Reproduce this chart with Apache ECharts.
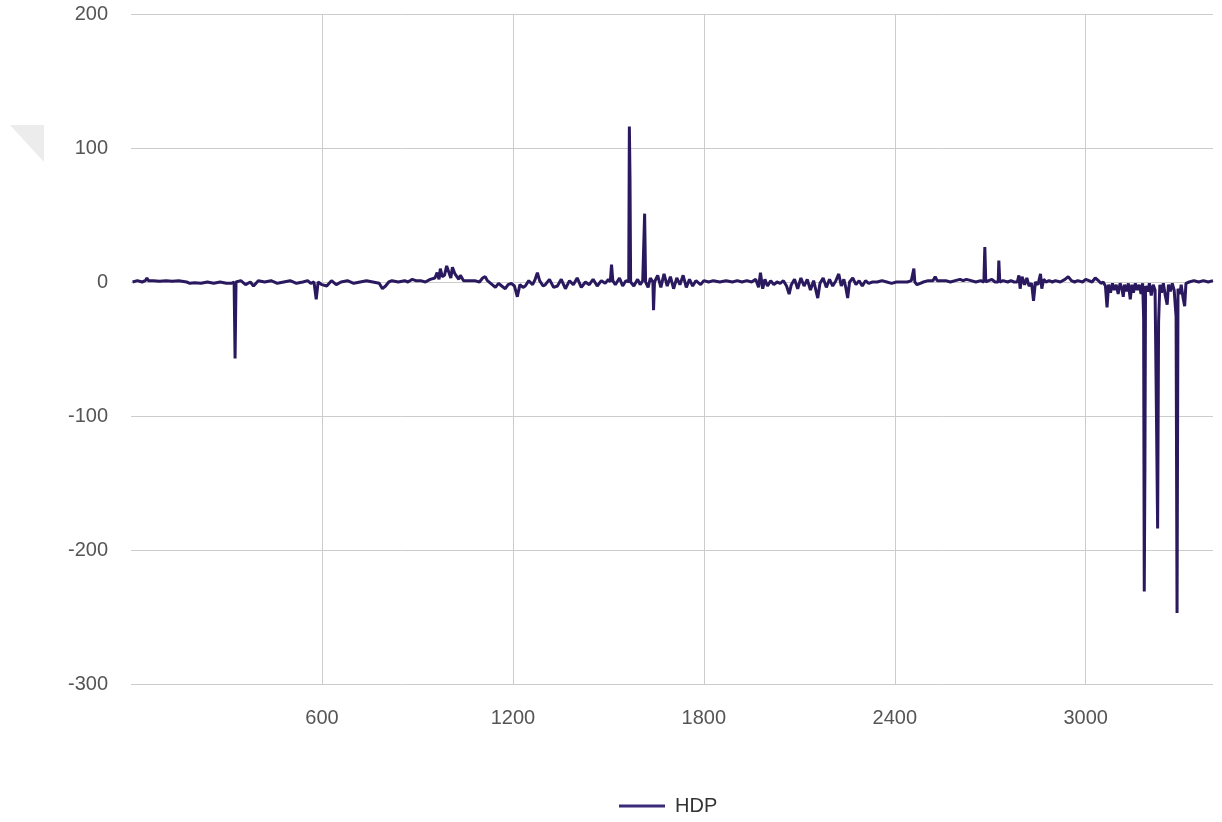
<!DOCTYPE html>
<html>
<head>
<meta charset="utf-8">
<script src="https://cdn.jsdelivr.net/npm/echarts@6/dist/echarts.min.js"></script>
<style>
  html, body { margin: 0; padding: 0; background: #fff; }
  #chart { width: 1222px; height: 822px; }
</style>
</head>
<body>
<div id="chart"></div>
<script>
// x positions (sample index) of the HDP series
const xPos = [
  5, 20, 35, 45, 50, 55, 70, 90, 110, 130, 150, 175, 180, 185, 200, 220, 240, 260, 280, 300, 315, 320, 324, 327, 330, 335,
  345, 360, 375, 385, 400, 420, 440, 460, 480, 500, 520, 540, 555, 565, 575, 582, 588, 600, 615, 630, 645, 660, 680, 700,
  720, 740, 760, 780, 790, 800, 810, 820, 840, 860,
  870, 884, 895, 910, 925, 940, 955, 962, 968, 972, 978, 985, 992, 997, 1005, 1010, 1018, 1030, 1035, 1045, 1060, 1066,
  1080, 1095, 1105, 1113, 1120, 1135, 1145, 1155, 1165, 1176, 1185, 1195, 1205, 1214, 1222, 1232, 1239, 1250, 1262, 1270,
  1277, 1284, 1295, 1302, 1315, 1328,
  1340, 1352, 1365, 1378, 1390, 1402, 1415, 1428, 1440, 1452, 1465, 1478, 1490, 1500, 1506, 1510, 1514, 1522, 1535, 1545,
  1555, 1560, 1564, 1566, 1568, 1570,
  1580, 1592, 1600, 1608, 1612, 1614, 1617, 1625, 1632, 1640, 1642, 1645, 1655, 1665, 1675, 1685, 1695, 1705, 1715, 1725,
  1735, 1745, 1755, 1765, 1775, 1790, 1800, 1815, 1830, 1850, 1870, 1890, 1905, 1920, 1935, 1950, 1963, 1972, 1978, 1985,
  1992, 2000, 2010, 2020, 2030, 2040, 2050, 2060, 2068, 2075, 2085, 2095, 2105, 2115, 2125, 2135, 2145, 2158, 2165, 2175,
  2185, 2195, 2205, 2215, 2224, 2232, 2240, 2246, 2252, 2258, 2268, 2278, 2288, 2298, 2308, 2318, 2330, 2345, 2360, 2375,
  2390, 2405, 2420, 2440, 2452, 2458, 2460, 2463, 2470, 2480, 2490, 2505, 2520, 2527, 2533, 2545, 2560, 2575, 2590, 2605,
  2615, 2625, 2640, 2655, 2670, 2680, 2683, 2686, 2695, 2705, 2715, 2725, 2727, 2730, 2740, 2755, 2765, 2775,
  2785, 2790, 2794, 2800, 2808, 2815, 2822, 2830, 2836, 2842, 2850, 2858, 2862, 2868, 2875, 2885, 2895, 2905, 2920, 2935,
  2945, 2955, 2965, 2975, 2990, 3000, 3010, 3020, 3030, 3040, 3048,
  3055, 3062, 3067, 3072, 3078, 3084, 3090, 3096, 3102, 3108, 3114, 3118, 3122, 3128, 3134, 3140, 3145, 3150, 3156, 3162,
  3168, 3174, 3179, 3182, 3184, 3186, 3188, 3195, 3200, 3206, 3212, 3218, 3222, 3226, 3229, 3233, 3238, 3244, 3250, 3256,
  3260, 3266, 3272, 3278, 3284, 3287, 3290, 3296, 3300, 3306, 3311, 3315, 3325, 3340, 3355, 3370, 3385, 3400
];

// HDP values, one per x position
const hdp = [
  0, 1, 0, 1, 3, 1, 1, 0.5, 1, 0.5, 1, 0, -1, -1, -0.5, -1, 0, -1, 0, -1, -1, 0, 0, -57, 0, 0,
  1, -2, 0, -3, 1, 0, 1, -1, 0, 1, -1, 0, 1, -1, 0, -13, 0, -2, -3, 1, -2, 0, 1, -1,
  0, 1, 0, -1, -5, -3, 0, 1, 0, 1,
  0, 2, 1, 1, 0, 2, 3, 7, 2, 10, 4, 5, 12, 11, 3, 11, 6, 2, 5, 1, 1, 2,
  1, 0, 3, 4, 1, -2, -4, -1, -3, -5, -2, -1, -3, -11, -2, -4, -3, 1, -2, 2,
  7, 1, -3, -2, 2, -4,
  -3, 2, -5, 1, -2, 3, -4, 0, -2, 2, -3, 1, -1, 2, 0, 13, 1, -2, 3, -3,
  1, 0, 0, 116, 78, 0,
  -3, 2, -2, 1, 0, 51, 0, -4, 3, 0, -21, 0, 5, -4, 6, -3, 4, -5, 3, -2,
  5, -4, 2, -3, 1, -2, 1, 0, 1, 0, 1, 0, 1, 0, 1, 0, 2, -4, 7, -5,
  2, -3, 1, -2, 0, -1, 1, -3, -9, -2, 2, -5, 3, -3, 2, -6, 1, -12, -1, 3,
  -4, 2, -3, 1, 6, -3, 2, -4, -12, 0, 3, -2, 1, -3, 1, -1, 0, 0, 1, 0,
  -1, 0, 0, 0, 1, 0, 10, 0, -2, -1, 0, 1, 1, 4, 1, 1, 1, 0, 1, 2,
  1, 2, 1, 0, 1, 0, 26, 0, 1, 2, 0, 0, 16, 0, 1, 0, 1, 0,
  0, 5, -5, 4, -2, 3, -3, -1, -14, 0, -2, 6, -5, 2, 0, 1, 0, 1, 0, 2,
  4, 1, 0, 1, 0, 2, 1, 0, 3, 1, -1,
  0, -3, -19, -2, -8, -1, -6, -2, -9, -1, -5, -11, -2, -7, -1, -13, -2, -8, -1, -6,
  -2, -9, -1, -27, -231, -140, -3, -7, -1, -10, -2, -6, -92, -184, -30, -2, -8, -1, -10, -17,
  -2, -7, -1, -6, -26, -247, -5, -9, -2, -12, -18, -1, 0, 1, 0, 1, 0, 1
];

const yTicks = { min: -300, max: 200, step: 100 };
const xTicks = { min: 0, max: 3400, step: 600 };

const chart = echarts.init(document.getElementById('chart'));

const labelFont = 'Liberation Sans, Arial, sans-serif';

const option = {
  animation: false,
  backgroundColor: '#fff',
  grid: { left: 131, right: 9, top: 14, bottom: 138 },
  graphic: [
    {
      type: 'polygon',
      shape: { points: [[10, 125], [44, 125], [44, 162]] },
      style: { fill: '#ececec' }
    }
  ],
  legend: {
    data: ['HDP'],
    left: 614,
    top: 791,
    icon: 'rect',
    itemWidth: 46,
    itemHeight: 3,
    itemGap: 10,
    itemStyle: { color: '#3b2a78' },
    textStyle: { color: '#333', fontSize: 20, fontFamily: labelFont, padding: [0, 0, 0, 5] }
  },
  xAxis: {
    type: 'value',
    min: xTicks.min,
    max: xTicks.max,
    interval: xTicks.step,
    axisLine: { show: false },
    axisTick: { show: false },
    axisLabel: {
      color: '#555',
      fontSize: 20,
      fontFamily: labelFont,
      margin: 24,
      showMinLabel: false,
      showMaxLabel: false,
      formatter: v => String(v)
    },
    splitLine: {
      show: true,
      showMinLine: false,
      showMaxLine: false,
      lineStyle: { color: '#cccccc', width: 1 }
    }
  },
  yAxis: {
    type: 'value',
    min: yTicks.min,
    max: yTicks.max,
    interval: yTicks.step,
    axisLine: { show: false },
    axisTick: { show: false },
    axisLabel: { color: '#555', fontSize: 20, fontFamily: labelFont, margin: 23, formatter: v => String(v) },
    splitLine: { lineStyle: { color: '#cccccc', width: 1 } }
  },
  series: [
    {
      name: 'HDP',
      type: 'line',
      data: xPos.map((x, i) => [x, hdp[i]]),
      showSymbol: false,
      symbol: 'none',
      color: '#2a195e',
      lineStyle: { color: '#2a195e', width: 3 }
    }
  ]
};

chart.setOption(option);
</script>
</body>
</html>
